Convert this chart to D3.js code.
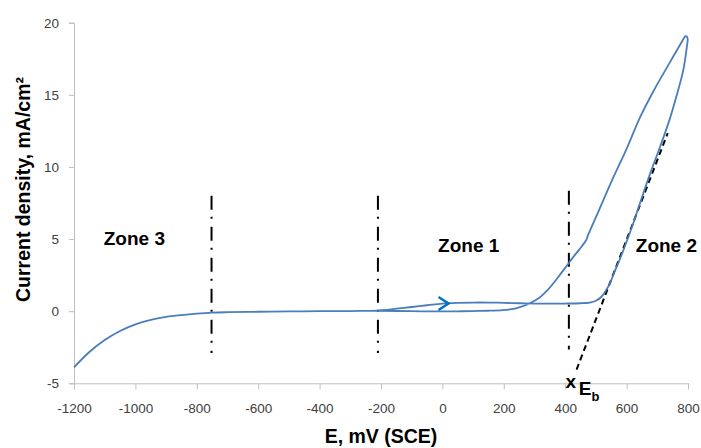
<!DOCTYPE html>
<html>
<head>
<meta charset="utf-8">
<script src="https://cdn.jsdelivr.net/npm/d3@7"></script>
<style>
  html, body { margin: 0; padding: 0; background: #fff; }
  svg { display: block; font-family: "Liberation Sans", Arial, sans-serif; }
</style>
</head>
<body>
<svg id="chart" width="701" height="448"></svg>
<script>
// ---- data ----
const xTicks = [-1200, -1000, -800, -600, -400, -200, 0, 200, 400, 600, 800];
const yTicks = [-5, 0, 5, 10, 15, 20];

// forward scan (cathodic -> anodic)
const forwardE = [-1200, -1150, -1100, -1050, -1000, -950, -900, -850, -800, -750, -700, -600, -500, -400, -300, -250, -200, -150, -100, -50, 0, 50, 100, 150, 200, 250, 300, 350, 400, 450, 480, 500, 518, 533, 546, 560, 578, 611, 643, 676, 710, 741, 763, 785, 797];
const forwardI = [-3.9, -2.83, -2.0, -1.37, -0.91, -0.6, -0.4, -0.27, -0.17, -0.1, -0.07, -0.04, -0.02, 0.0, 0.01, 0.02, 0.05, 0.17, 0.29, 0.41, 0.53, 0.58, 0.6, 0.6, 0.58, 0.55, 0.53, 0.53, 0.53, 0.55, 0.6, 0.72, 1.0, 1.45, 1.95, 2.7, 3.6, 5.45, 7.45, 9.5, 11.45, 13.35, 14.95, 16.75, 18.45];

// reverse scan (anodic -> cathodic)
const reverseE = [799, 796, 791, 786, 779, 741, 690, 643, 600, 551, 507, 474, 469, 445, 426, 405, 382, 360, 340, 317, 300, 285, 260, 240, 220, 197, 150, 100, 50, 0, -100, -210];
const reverseI = [18.85, 19.05, 19.05, 18.9, 18.65, 17.25, 15.35, 13.4, 11.25, 9.0, 6.85, 5.25, 4.95, 4.25, 3.75, 3.15, 2.5, 1.9, 1.4, 0.95, 0.72, 0.55, 0.33, 0.2, 0.12, 0.07, 0.03, 0.01, -0.01, -0.02, 0.0, 0.03];

// tangent (dashed) line used to find Eb
const tangentE = [437, 734];
const tangentI = [-4.05, 12.35];

// zone boundary (dash-dot) lines
const zoneLineE = [-752, -210, 412];
const zoneLineTop = [8.0, 8.0, 8.35];
const zoneLineBottom = [-2.9, -2.9, -2.65];

// zone labels
const zoneLabels = ["Zone 3", "Zone 1", "Zone 2"];
const zoneLabelE = [-1103, -14, 630];
const zoneLabelI = [4.6, 4.1, 4.1];

// scan direction arrow (tip position)
const arrowE = 20;
const arrowI = 0.53;

// Eb marker
const ebE = 418;
const ebI = -5.3;

const xTitle = "E, mV (SCE)";
const yTitle = "Current density, mA/cm²";

// ---- drawing ----
const svg = d3.select("#chart");
const x = d3.scaleLinear().domain([-1200, 800]).range([74, 688]);
const y = d3.scaleLinear().domain([-5, 20]).range([383.3, 22.7]);

const axisColor = "#bfbfbf";
const labelColor = "#404040";

// x axis
const xAxis = svg.append("g")
  .attr("transform", `translate(0,${y(-5)})`)
  .call(d3.axisBottom(x).tickValues(xTicks).tickSize(6).tickPadding(14).tickFormat(d3.format("d")));
xAxis.select(".domain").attr("stroke", axisColor);
xAxis.selectAll(".tick line").attr("stroke", axisColor);
xAxis.selectAll(".tick text").attr("fill", labelColor).attr("font-size", "13.5px")
  .attr("font-family", "Liberation Sans, Arial, sans-serif").text(d => d < 0 ? "-" + Math.abs(d) : d);

// y axis
const yAxis = svg.append("g")
  .attr("transform", `translate(${x(-1200)},0)`)
  .call(d3.axisLeft(y).tickValues(yTicks).tickSize(5).tickPadding(10).tickFormat(d3.format("d")));
yAxis.select(".domain").attr("stroke", axisColor);
yAxis.selectAll(".tick line").attr("stroke", axisColor);
yAxis.selectAll(".tick text").attr("fill", labelColor).attr("font-size", "13.5px")
  .attr("font-family", "Liberation Sans, Arial, sans-serif").text(d => d < 0 ? "-" + Math.abs(d) : d);

// axis titles
svg.append("text")
  .attr("x", 381).attr("y", 443)
  .attr("text-anchor", "middle")
  .attr("font-weight", "bold").attr("font-size", "19.5px").attr("fill", "#000")
  .text(xTitle);
svg.append("text")
  .attr("transform", `translate(30,${(75 + 304) / 2}) rotate(-90)`)
  .attr("text-anchor", "middle")
  .attr("font-weight", "bold").attr("font-size", "19.5px").attr("fill", "#000")
  .text(yTitle);

// zone boundary lines
svg.append("g").selectAll("line").data(zoneLineE).join("line")
  .attr("x1", d => x(d)).attr("x2", d => x(d))
  .attr("y1", (d, i) => y(zoneLineTop[i])).attr("y2", (d, i) => y(zoneLineBottom[i]))
  .attr("stroke", "#000").attr("stroke-width", 2)
  .attr("stroke-dasharray", "14,7,2,8");

// tangent line
svg.append("line")
  .attr("x1", x(tangentE[0])).attr("y1", y(tangentI[0]))
  .attr("x2", x(tangentE[1])).attr("y2", y(tangentI[1]))
  .attr("stroke", "#000").attr("stroke-width", 2)
  .attr("stroke-dasharray", "6,4");

// polarization curve
const pts = forwardE.map((e, i) => [e, forwardI[i]])
  .concat(reverseE.map((e, i) => [e, reverseI[i]]));
const line = d3.line().x(d => x(d[0])).y(d => y(d[1])).curve(d3.curveCatmullRom.alpha(0.5));
svg.append("path")
  .attr("d", line(pts))
  .attr("fill", "none").attr("stroke", "#4a7ebb").attr("stroke-width", 1.8)
  .attr("stroke-linejoin", "round");

// direction arrow
const ax = x(arrowE), ay = y(arrowI);
svg.append("path")
  .attr("d", `M${ax - 10},${ay - 6.5} L${ax},${ay} L${ax - 10},${ay + 6.5}`)
  .attr("fill", "none").attr("stroke", "#0070c0").attr("stroke-width", 2.4)
  .attr("stroke-linejoin", "miter");

// zone labels
svg.append("g").selectAll("text").data(zoneLabels).join("text")
  .attr("x", (d, i) => x(zoneLabelE[i])).attr("y", (d, i) => y(zoneLabelI[i]))
  .attr("font-weight", "bold").attr("font-size", "19px").attr("fill", "#000")
  .text(d => d);

// Eb marker
svg.append("text")
  .attr("x", x(ebE)).attr("y", y(ebI))
  .attr("text-anchor", "middle")
  .attr("font-weight", "bold").attr("font-size", "19px").attr("fill", "#000")
  .text("x");
const eb = svg.append("text")
  .attr("x", x(ebE) + 8).attr("y", y(ebI) + 7)
  .attr("font-weight", "bold").attr("font-size", "19px").attr("fill", "#000");
eb.append("tspan").text("E");
eb.append("tspan").attr("dy", 6).attr("font-size", "13px").text("b");
</script>
</body>
</html>
